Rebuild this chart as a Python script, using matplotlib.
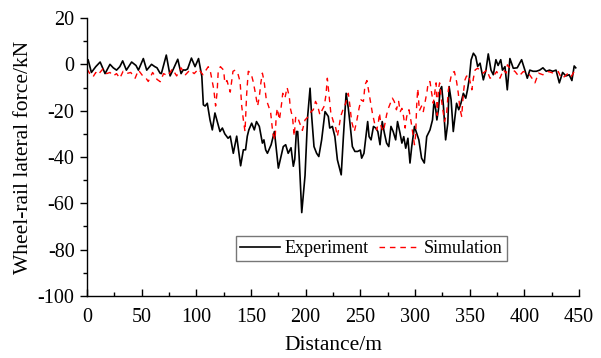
import matplotlib
matplotlib.use("Agg")
import matplotlib.pyplot as plt
from matplotlib.ticker import MultipleLocator

# values (distance in m, force in kN)
exp_x = [0, 1, 4, 8, 12, 16.5, 21, 24, 27, 30, 32.6, 36, 40.8, 44.8, 47, 51.5,
         54.6, 59, 62, 64, 66.8, 68, 72.5, 76, 79, 83, 86, 88, 90, 92, 95.5,
         98.8, 102, 105, 106.4, 108, 110, 112.5, 114.6, 117, 119.5, 121.6,
         123.8, 126, 129, 131, 133.8, 136.9, 140.5, 143, 145, 146.6, 148,
         150.6, 153, 155, 157.6, 160.4, 161.8, 163.4, 165, 168.4, 171.4,
         173.5, 175, 177.4, 179.5, 181.7, 184, 186.6, 188.7, 190, 191.5,
         192.7, 194, 196.4, 199.4, 201.8, 204, 205.5, 207.6, 210, 212, 214.6,
         217.7, 220.7, 222, 224.4, 226.7, 229, 232.5, 234.5, 237, 239, 240.5,
         242.7, 245, 247.5, 250, 251.2, 253.3, 255.5, 256.7, 258, 259.8, 262,
         264, 266, 268, 270, 272, 274, 276, 278, 280, 282.3, 284, 286.3, 288,
         289.7, 291.5, 293.5, 295.4, 297, 299.5, 301.5, 303.5, 306, 308.5,
         310.7, 313.7, 316, 317.4, 319, 320, 321.4, 323, 324.4, 326, 328, 330,
         331.2, 333, 335, 336.6, 338, 340, 342, 344.2, 346.4, 348, 349.7,
         351.3, 353.4, 355.5, 357.3, 359.5, 362.5, 364.9, 367, 369.5, 371.6,
         374, 376, 378.4, 380, 382.3, 384.4, 386.8, 389.9, 393.5, 397.5,
         400.5, 402.7, 405, 408, 411, 414, 417, 420, 423, 426, 429, 432, 435,
         438, 441, 443.5, 445.6, 447]
exp_y = [1, 2, -3.5, -1, 1, -4, 0, -1.5, -2.5, -1, 1.5, -2.5, 1, -0.5, -2.5, 2.5,
         -2.5, 0, -1, -1.5, -3.8, -4, 4, -5, -2, 2.2, -4, -2.4, -2.5, -2, 2.7,
         -1, 2.5, -5.2, -17.5, -18, -16.8, -24, -28.3, -21, -25.4, -29,
         -27.5, -30, -31.9, -31, -38.4, -31, -43.8, -36.9, -36.9, -31, -28.3,
         -25.4, -28.3, -24.7, -26.8, -34, -32.6, -36.9, -38.4, -34.7, -29,
         -38.4, -44.8, -39.8, -35.5, -34.7, -38.4, -36, -44, -41, -29,
         -29, -39.8, -64, -48, -22.5, -10.3, -22.5, -35.5, -38.4, -39.8, -32.6,
         -20.4, -22.5, -27.5, -26.8, -31.2, -41.2, -47.7, -31.2, -12.5, -19, -25.4,
         -35.5, -37.6, -37.6, -37, -40.5, -38.4, -29.7, -24.7, -31.2, -32.6, -26.8,
         -27.5, -29, -34.7, -24.7, -29.7, -34, -35.5, -26.8, -29, -32.6, -24.7, -29.7, -34,
         -31.2, -36.2, -31.9, -42.6, -35.5, -26.8, -29.7, -32.6, -40.5, -42.6,
         -31.2, -28.3, -24, -16, -19.6, -24, -19.6, -11, -9.6, -18, -32.6, -25.4,
         -9.6, -15.3, -29, -22.5, -16.8, -19.6, -16.8, -12.5, -14.6, -11, -6,
         1.9, 4.8, 3.4, -0.9, 0.5, -6.7, -2.5, 4.5, -2.5, -4.5,
         2, -0.5, 2, -2.5, -1, -11, 2.5, -1.7, -1.5, 2,
         -2.5, -6, -2.5, -3, -3, -2.5, -1.5, -3, -2.5, -3, -2.5, -8, -3.5,
         -5, -4.5, -7, -0.7, -1.5]

sim_x = [0, 2.5, 5.5, 8, 10, 14.5, 18, 21, 24, 27, 30, 33, 36, 40, 44, 47, 51,
         54, 56, 60, 64, 67, 70, 74, 78, 82, 86, 90, 94, 98, 102, 106, 110.9,
         113, 116, 117.6, 119, 120, 122, 125, 126, 128, 131, 133.5, 135.5, 138,
         140, 141.5, 143, 144.5, 146, 147.5, 150, 152, 154, 156, 157.6, 159,
         160.4, 162, 164, 166, 168, 170, 172, 173, 174, 176, 178, 179, 181,
         183, 185, 186, 188, 189.5, 190.9, 192.7, 195, 197, 199.4, 202.5, 205,
         207, 209, 211, 213, 215.2, 217, 218.6, 219.8, 221, 223, 225.3, 227.5,
         229, 230.5, 232, 234.5, 236.6, 239, 240.5, 242, 244.5, 246.6, 248.8,
         250.6, 252.8, 254.3, 256, 258, 259.8, 261, 263, 265, 266.5, 267.5, 269,
         271, 272.6, 274, 275.6, 277.5, 279.3, 281, 283, 285, 286.5, 288,
         289.5, 291, 292.4, 294.5, 296.4, 298, 299.5, 300.6, 301.5, 302.5, 304,
         306, 307.6, 309, 311, 312, 313.7, 315, 316.7, 318, 319.3, 320.3, 321.5,
         322.5, 323.8, 325, 327, 329, 330.5, 332, 333.6, 336, 338, 339.6, 341,
         342.7, 344.2, 345.7, 347, 349, 352, 353.4, 355, 357.3, 359.5, 362.5,
         365.6, 368.6, 371.6, 374.7, 377.7, 380.8, 383.5, 384.5, 387, 391.5,
         395, 399, 403.7, 407, 409.7, 413, 417, 422, 426.5, 431, 434, 437, 440,
         443, 446.4, 448]
sim_y = [-2, -4, -5.4, -3.5, -4.5, -2, -4, -3.5, -5, -4, -6, -3, -4, -3.5, -6, -2.5, -5,
         -6, -7.4, -3.5, -6.5, -7.5, -4, -5, -2, -5, -1.5, -4.5, -2.5, -4, -2, -4.5, -1,
         -3.5, -11, -18, -12, -3, -1, -2.5, -8, -7, -12, -3, -2.5, -4,
         -7.5, -18, -24, -29, -13, -3, -3.8, -7.5, -12.5, -18, -14, -8,
         -3.8, -7.4, -15.3, -18, -21, -30, -32.6, -22.5, -19, -24, -16.8, -12.5, -14.6,
         -10, -13.9, -19, -23, -31, -22.5, -23, -26, -28.5, -24, -22.5, -20.4,
         -19.6, -16, -18, -21.8, -19.6, -18, -13, -6, -11.7, -21, -24.7, -27.5,
         -31.1, -27, -22.5, -19, -16.8, -12.5, -18, -24.7, -29, -24.7, -19,
         -15.3, -16, -8.8, -7, -12.5, -17.5, -21, -25.4, -28.3, -25, -21, -26.8,
         -29, -25.4, -21.8, -19, -16.8, -14.6, -16, -19.6, -16, -20.4, -19,
         -22.5, -27.5, -22.5, -19.6, -24.7, -29.7, -34.7, -30.4, -18, -10.5, -20,
         -18, -20.4, -16.8, -11.7, -8, -7.4, -11.7, -16.8, -12.5, -8, -22, -10.5,
         -8, -14, -18, -24.7, -21, -11, -7.4, -3.8, -3.1, -7.4, -12.5, -19,
         -22.5, -12.5, -6.7, -5.2, -4.5, -11, -6, -2.4, -1.7, -2.4, -3.8,
         -2.4, -6, -5.2, -3.1, -6, -2.4, -3.8, -0.2, -1.7, -3.1,
         -5.2, -3.1, -3.8, -6, -8, -3.8, -4.5, -3.1, -3.8, -3.1, -6, -5.2, -3.8,
         -5.2, -2.4, -3]

plt.rcParams['font.family'] = ['Liberation Serif', 'DejaVu Serif']
plt.rcParams['font.size'] = 14.5
plt.rcParams['axes.unicode_minus'] = False

fig = plt.figure(figsize=(6.01, 3.58), dpi=100)
ax = fig.add_axes([0.1448, 0.1732, 0.8186, 0.7765])

ax.plot(exp_x, exp_y, color='black', lw=1.2, label='Experiment')
ax.plot(sim_x, sim_y, color='red', lw=1.0, linestyle=(0, (4, 3.5)), label='Simulation')

ax.set_xlim(0, 450)
ax.set_ylim(-100, 20)
ax.xaxis.set_major_locator(MultipleLocator(50))
ax.xaxis.set_minor_locator(MultipleLocator(25))
ax.yaxis.set_major_locator(MultipleLocator(20))
ax.yaxis.set_minor_locator(MultipleLocator(10))
ax.tick_params(axis='x', which='both', direction='in', pad=9)
ax.tick_params(axis='y', which='both', direction='out', pad=4)
ax.tick_params(which='major', length=5, width=1)
ax.tick_params(which='minor', length=3, width=1)

for s in ['top', 'right']:
    ax.spines[s].set_visible(False)
for s in ['left', 'bottom']:
    ax.spines[s].set_linewidth(1.0)

ax.set_xlabel('Distance/m', fontsize=15.5, labelpad=6)
ax.set_ylabel('Wheel-rail lateral force/kN', fontsize=15.5, labelpad=3)

leg = ax.legend(loc='center', bbox_to_anchor=(0.578, 0.171), ncol=2,
                frameon=True, fancybox=False, edgecolor='#555555',
                handlelength=2.2, handletextpad=0.3, columnspacing=0.55,
                borderpad=0.2, borderaxespad=0, fontsize=13)
leg.get_frame().set_linewidth(1.0)

fig.savefig('out.png', dpi=100)
